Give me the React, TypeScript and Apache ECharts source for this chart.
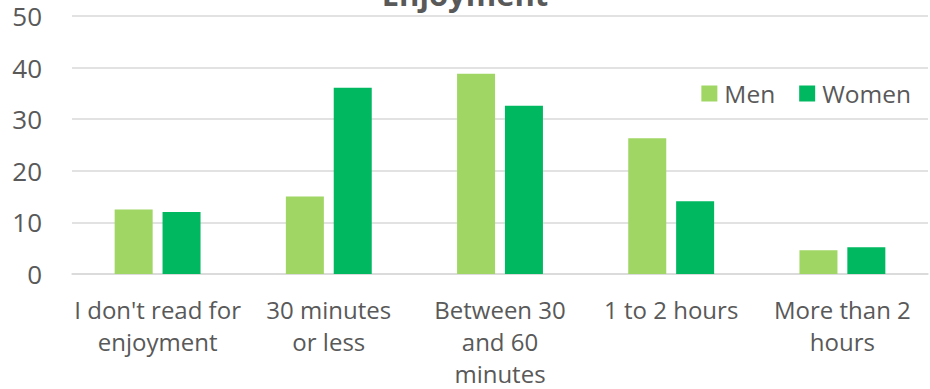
import React, { useEffect, useRef } from "react";
import * as echarts from "echarts";

const categories = [
  "I don't read for\nenjoyment",
  "30 minutes\nor less",
  "Between 30\nand 60\nminutes",
  "1 to 2 hours",
  "More than 2\nhours",
];
const menValues = [12.5, 15.0, 38.8, 26.3, 4.6];
const womenValues = [12.0, 36.1, 32.6, 14.1, 5.2];
const titleText = "Enjoyment";

export default function App() {
  const ref = useRef<HTMLDivElement>(null);
  useEffect(() => {
    if (!ref.current) return;
    const chart = echarts.init(ref.current, undefined, { renderer: "svg" });
    const font = "Open Sans";
    chart.setOption({
      animation: false,
      textStyle: { fontFamily: font },
      graphic: [
        {
          type: "text",
          left: "center",
          y: 9,
          style: {
            text: titleText,
            font: `bold 31px "${font}"`,
            fill: "#595959",
            verticalAlign: "bottom",
          },
        },
      ],
      legend: {
        right: 14,
        top: 76,
        itemWidth: 16,
        itemHeight: 16,
        itemGap: 24,
        icon: "rect",
        textStyle: { fontSize: 24.5, color: "#595959", fontFamily: font, padding: [0, 0, 0, 2] },
        data: ["Men", "Women"],
      },
      grid: { left: 72, right: 2, top: 16, bottom: 114, containLabel: false },
      xAxis: {
        type: "category",
        data: categories,
        axisLine: { lineStyle: { color: "#d9d9d9", width: 1.5 } },
        axisTick: { show: false },
        axisLabel: {
          interval: 0,
          fontSize: 24,
          lineHeight: 32,
          color: "#595959",
          fontFamily: font,
          margin: 19,
        },
      },
      yAxis: {
        type: "value",
        min: 0,
        max: 50,
        interval: 10,
        axisLine: { show: false },
        axisTick: { show: false },
        splitLine: { lineStyle: { color: "#d9d9d9", width: 1.5 } },
        axisLabel: { fontSize: 26, color: "#595959", fontFamily: font, margin: 30 },
      },
      series: [
        {
          name: "Men",
          type: "bar",
          data: menValues,
          barWidth: 38,
          barGap: "26%",
          itemStyle: { color: "#a0d664" },
        },
        {
          name: "Women",
          type: "bar",
          data: womenValues,
          barWidth: 38,
          itemStyle: { color: "#00b860" },
        },
      ],
    });
    return () => chart.dispose();
  }, []);
  return <div ref={ref} style={{ width: 930, height: 389, position: "absolute", left: 0, top: 0 }} />;
}
